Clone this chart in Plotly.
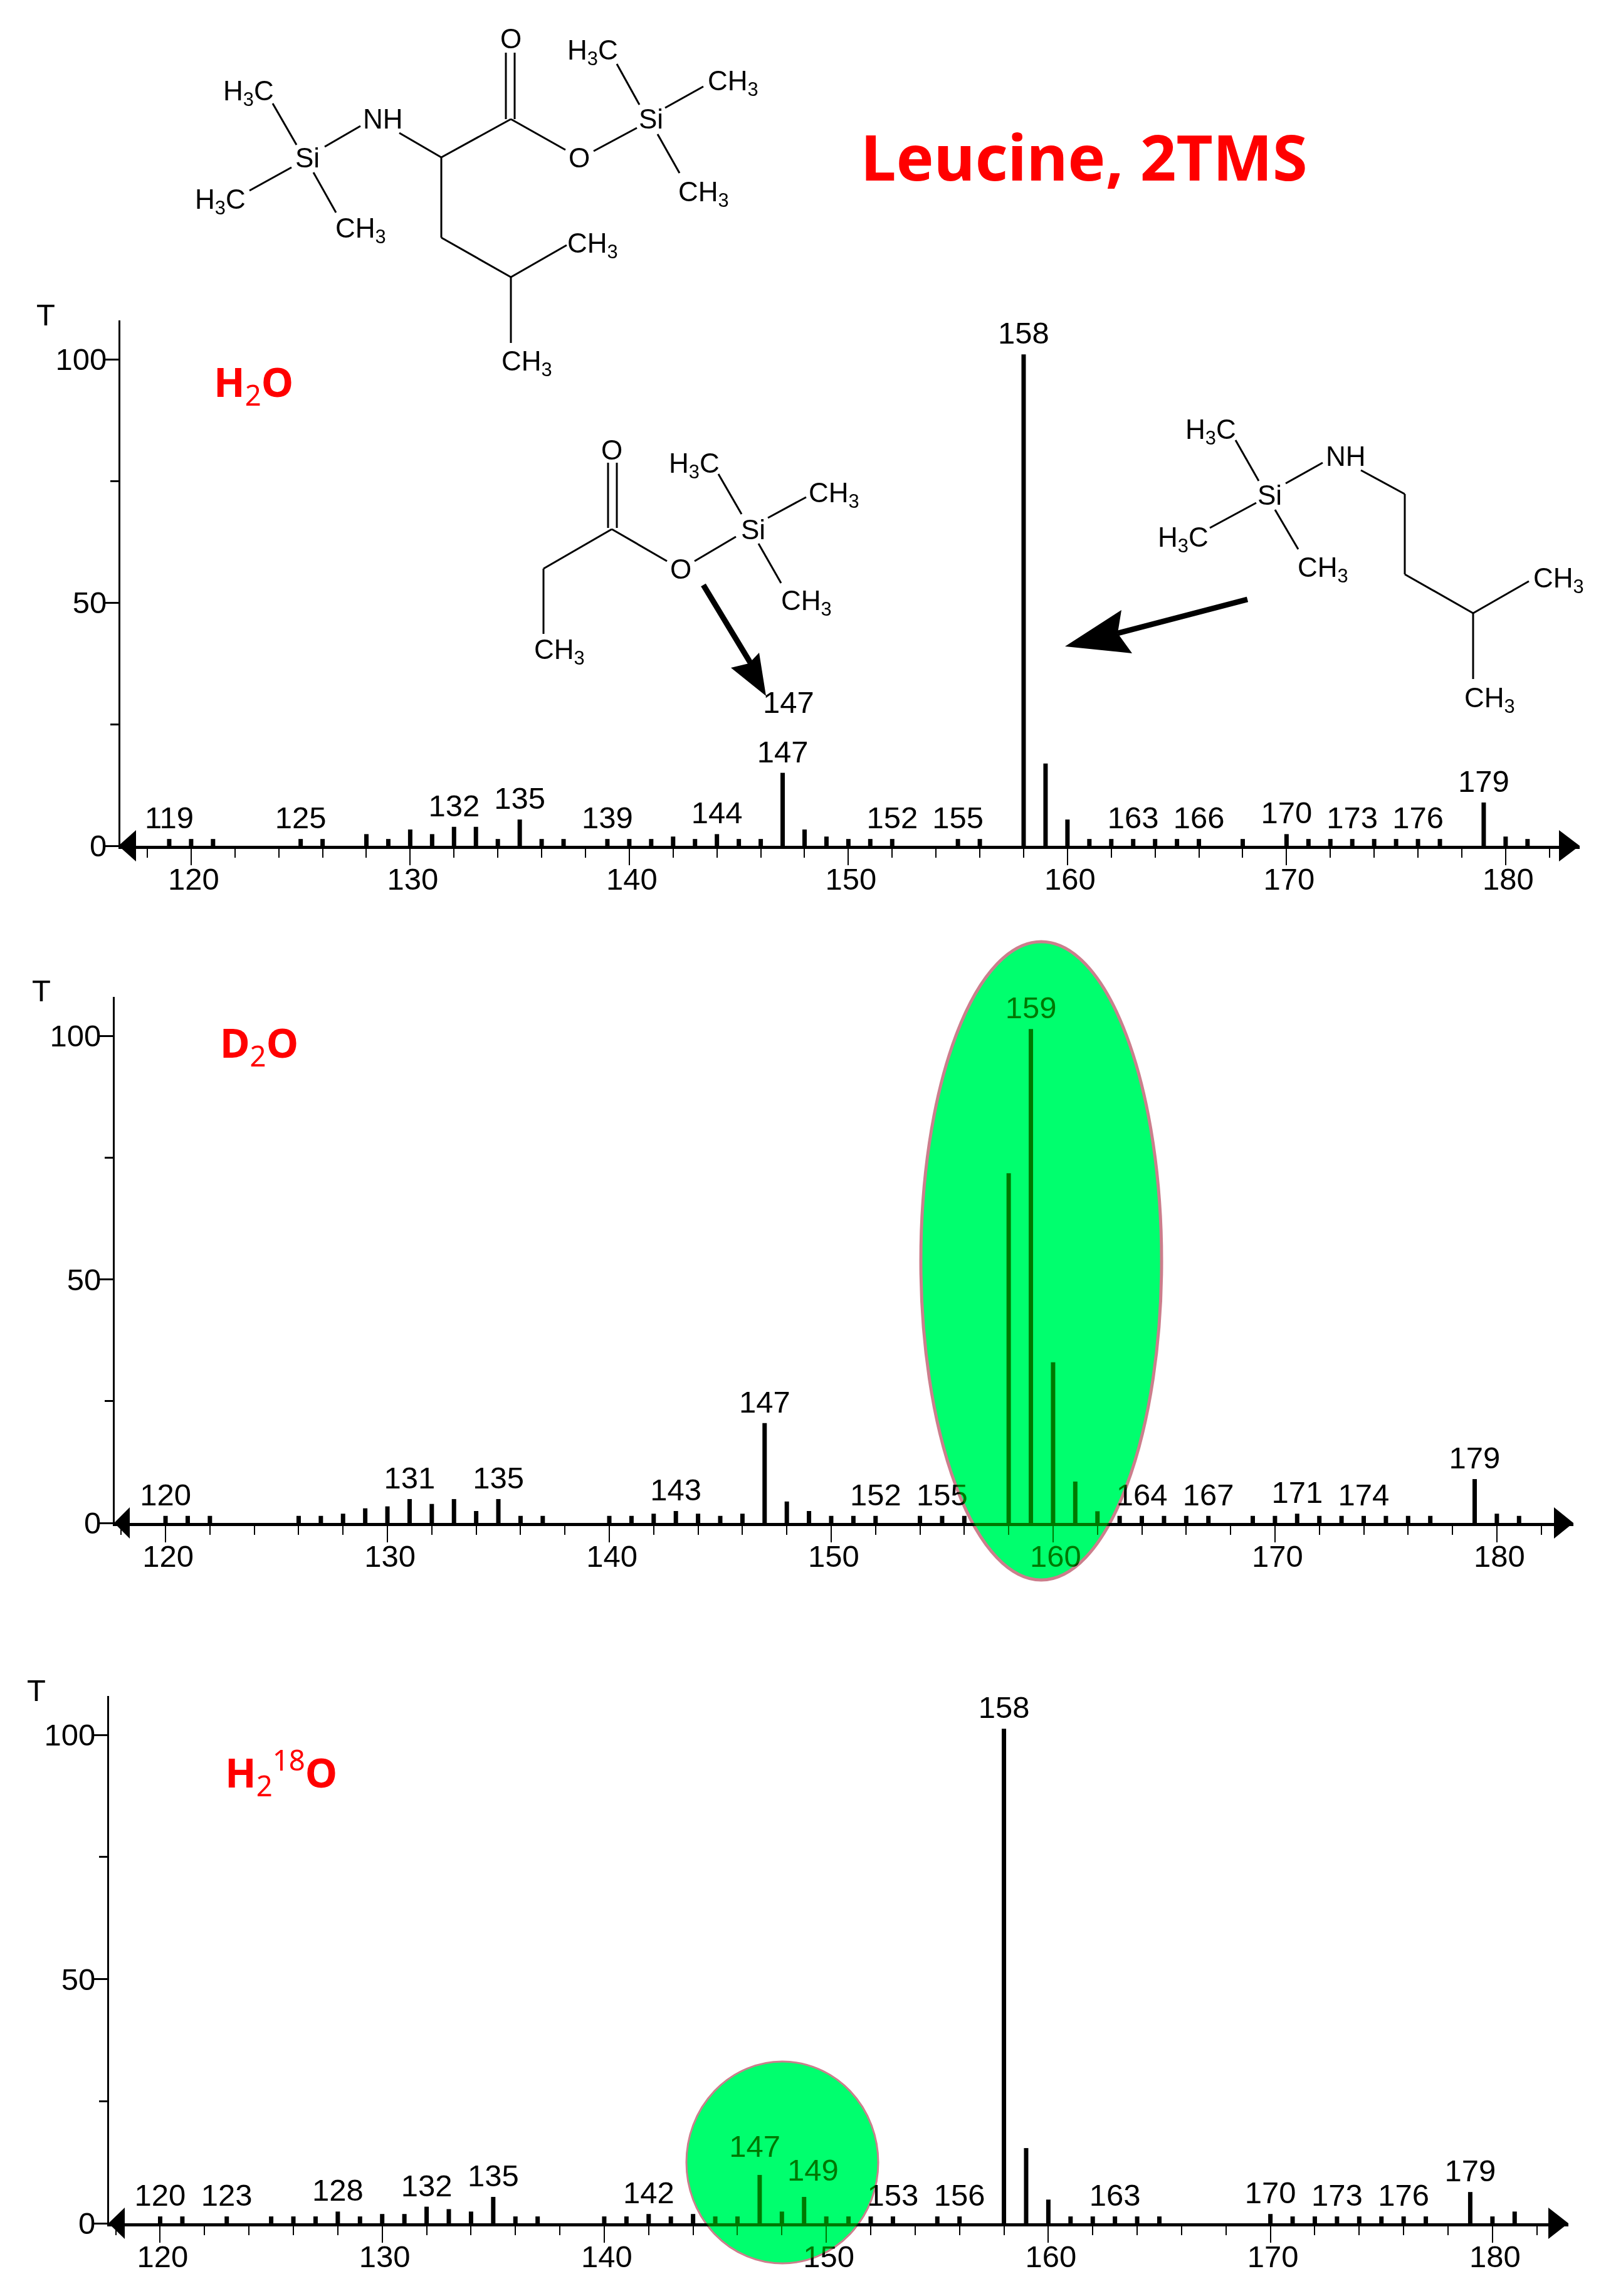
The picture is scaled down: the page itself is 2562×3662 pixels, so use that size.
import plotly.graph_objects as go

W, H = 2562, 3662
INK = "#000000"
RED = "#FF0000"
FONT = "Liberation Sans"

# ---------- spectra ----------
MZ_H2O = [119,120,121,125,126,128,129,130,131,132,133,134,135,136,137,139,140,141,142,143,144,145,146,147,148,149,150,151,152,155,156,158,159,160,161,162,163,164,165,166,168,170,171,172,173,174,175,176,177,179,180,181]
INT_H2O = [1.4,1.4,1.4,1.4,1.4,2.4,1.4,3.35,2.4,3.9,3.9,1.4,5.4,1.4,1.4,1.4,1.4,1.4,1.9,1.4,2.4,1.4,1.4,15.0,3.35,1.9,1.4,1.4,1.4,1.4,1.4,101,16.9,5.4,1.4,1.4,1.4,1.4,1.4,1.4,1.4,2.4,1.4,1.4,1.4,1.4,1.4,1.4,1.4,8.9,1.9,1.4]
LBL_H2O = [119,125,132,135,139,144,147,152,155,158,163,166,170,173,176,179]

MZ_D2O = [120,121,122,126,127,128,129,130,131,132,133,134,135,136,137,140,141,142,143,144,145,146,147,148,149,150,151,152,154,155,156,158,159,160,161,162,163,164,165,166,167,169,170,171,172,173,174,175,176,177,179,180,181]
INT_D2O = [1.45,1.45,1.45,1.45,1.45,1.9,3.0,3.4,4.9,3.9,4.9,2.45,4.9,1.45,1.45,1.45,1.45,1.9,2.45,1.9,1.45,1.9,20.5,4.4,2.45,1.45,1.45,1.45,1.45,1.45,1.45,71.8,101.4,33,8.5,2.4,1.45,1.45,1.45,1.45,1.45,1.45,1.45,1.9,1.45,1.45,1.45,1.45,1.45,1.45,9.0,1.9,1.45]
LBL_D2O = [120,131,135,143,147,152,155,159,164,167,171,174,179]

MZ_H218O = [120,121,123,125,126,127,128,129,130,131,132,133,134,135,136,137,140,141,142,143,144,145,146,147,148,149,150,151,152,153,155,156,158,159,160,161,162,163,164,165,170,171,172,173,174,175,176,177,179,180,181]
INT_H218O = [1.4,1.4,1.4,1.4,1.4,1.4,2.4,1.4,1.9,1.9,3.4,2.9,2.4,5.4,1.4,1.4,1.4,1.4,1.9,1.4,1.9,1.4,1.4,9.9,2.4,5.4,1.4,1.4,1.4,1.4,1.4,1.4,101.3,15.4,4.85,1.4,1.4,1.4,1.4,1.4,1.9,1.4,1.4,1.4,1.4,1.4,1.4,1.4,6.4,1.4,2.4]
LBL_H218O = [120,123,128,132,135,142,147,149,153,156,158,163,170,173,176,179]
# labels nudged off their stick in the reference: m/z -> (dx, dy) in axis units
NUDGE_H218O = {147: (-0.22, 1.6), 149: (0.4, 1.2)}

PANELS = [
    dict(mz=MZ_H2O, val=INT_H2O, lbl=LBL_H2O, nudge={}, left=192, right=2520, top=511, bottom=1349, xr=[116.77, 183.38],
         tip_l=189, base_l=217, base_r=2487, tip_r=2520),
    dict(mz=MZ_D2O, val=INT_D2O, lbl=LBL_D2O, nudge={}, left=183, right=2510, top=1590, bottom=2429, xr=[117.71, 183.45],
         tip_l=182, base_l=207, base_r=2479, tip_r=2510),
    dict(mz=MZ_H218O, val=INT_H218O, lbl=LBL_H218O, nudge=NUDGE_H218O, left=174, right=2502, top=2705, bottom=3546, xr=[117.70, 183.42],
         tip_l=173, base_l=199, base_r=2470, tip_r=2502),
]

STICK_FOOT = -0.5
LABEL_LIFT = 0.6


def px(x):
    return x / W


def py(y):
    return 1 - y / H


def poly(points, color=INK):
    d = "M " + " L ".join(f"{px(x):.5f},{py(y):.5f}" for x, y in points) + " Z"
    return dict(type="path", xref="paper", yref="paper", path=d, fillcolor=color, line=dict(width=0), layer="above")


def seg(x0, y0, x1, y1, w=3):
    return dict(type="line", xref="paper", yref="paper", x0=px(x0), y0=py(y0), x1=px(x1), y1=py(y1),
                line=dict(color=INK, width=w), layer="above")


def ellipse(x0, y0, x1, y1, fill, line=None, lw=0):
    return dict(type="circle", xref="paper", yref="paper", x0=px(x0), y0=py(y0), x1=px(x1), y1=py(y1),
                fillcolor=fill, line=dict(color=line or fill, width=lw), layer="above")


fig = go.Figure()
layout = {}
for i, p in enumerate(PANELS, start=1):
    xn = "x" if i == 1 else f"x{i}"
    yn = "y" if i == 1 else f"y{i}"
    sx, sy = [], []
    for m, v in zip(p["mz"], p["val"]):
        sx += [m, m, None]
        sy += [STICK_FOOT, v, None]
    fig.add_trace(go.Scatter(x=sx, y=sy, mode="lines", xaxis=xn, yaxis=yn, cliponaxis=False,
                             line=dict(color=INK, width=7), showlegend=False, hoverinfo="skip"))
    lookup = dict(zip(p["mz"], p["val"]))
    lx = [m + p["nudge"].get(m, (0, 0))[0] for m in p["lbl"]]
    ly = [lookup[m] + LABEL_LIFT + p["nudge"].get(m, (0, 0))[1] for m in p["lbl"]]
    fig.add_trace(go.Scatter(x=lx, y=ly, text=[str(m) for m in p["lbl"]],
                             mode="text", textposition="top center", xaxis=xn, yaxis=yn, cliponaxis=False,
                             textfont=dict(family=FONT, size=49, color=INK), showlegend=False, hoverinfo="skip"))
    suffix = "" if i == 1 else str(i)
    layout[f"xaxis{suffix}"] = dict(
        domain=[px(p["left"]), px(p["right"])], range=p["xr"], anchor=yn,
        tick0=120, dtick=10, ticks="outside", ticklen=26, tickwidth=2, tickcolor=INK,
        minor=dict(tick0=120, dtick=2, ticks="outside", ticklen=14, tickwidth=2, tickcolor=INK),
        showgrid=False, zeroline=False, showline=True, linecolor=INK, linewidth=5,
        tickfont=dict(family=FONT, size=49, color=INK), ticklabelstandoff=-20, ticklabelshift=4, automargin=False)
    layout[f"yaxis{suffix}"] = dict(
        domain=[py(p["bottom"]), py(p["top"])], range=[0, 108], anchor=xn,
        tick0=0, dtick=50, ticks="outside", ticklen=24, tickwidth=3, tickcolor=INK,
        minor=dict(tick0=0, dtick=25, ticks="outside", ticklen=13, tickwidth=3, tickcolor=INK),
        showgrid=False, zeroline=False, showline=True, linecolor=INK, linewidth=3,
        tickfont=dict(family=FONT, size=49, color=INK), ticklabelstandoff=-15, automargin=False)

# Highlight ellipses: indexes 0..3 get blend modes in the page script
shapes = [
    ellipse(1469, 1502, 1853, 2520, "#007800"),
    ellipse(1469, 1502, 1853, 2520, "#00FF6E", "#CC7E8C", 5),
    ellipse(1095, 3288, 1401, 3610, "#007800"),
    ellipse(1095, 3288, 1401, 3610, "#00FF6E", "#CC7E8C", 3),
]

# Axis arrow heads
for p in PANELS:
    b = p["bottom"]
    shapes.append(poly([(p["tip_l"], b), (p["base_l"], b - 25), (p["base_l"], b + 25)]))
    shapes.append(poly([(p["tip_r"], b), (p["base_r"], b - 25), (p["base_r"], b + 25)]))

# Leucine structure
BONDS = [
    (807, 84, 807, 190), (821, 84, 821, 190), (815, 190, 704, 251), (704, 251, 637, 212),
    (575, 201, 518, 234), (473, 231, 435, 165), (465, 267, 398, 304), (500, 275, 536, 339),
    (815, 190, 902, 239), (947, 241, 1016, 204), (1020, 167, 984, 102), (1061, 172, 1122, 138),
    (1049, 214, 1084, 276), (704, 251, 704, 379), (704, 379, 815, 442), (815, 442, 904, 391),
    (815, 442, 815, 547),
    # 147 fragment
    (970, 738, 970, 842), (984, 738, 984, 842), (976, 844, 867, 907), (867, 907, 867, 1011),
    (976, 844, 1064, 895), (1108, 895, 1174, 856), (1183, 820, 1146, 756), (1225, 826, 1286, 793),
    (1210, 867, 1246, 930),
    # 158 fragment
    (1971, 702, 2008, 767), (2051, 771, 2110, 738), (2171, 750, 2241, 788), (2241, 788, 2241, 916),
    (2241, 916, 2350, 978), (2350, 978, 2439, 927), (2350, 978, 2350, 1083), (2004, 802, 1930, 842),
    (2034, 813, 2071, 876),
]
shapes += [seg(*b) for b in BONDS]

# Pointing arrows
shapes.append(seg(1122, 933, 1200, 1062, 9))
shapes.append(poly([(1222, 1110), (1166, 1065), (1195, 1058), (1211, 1041)]))
shapes.append(seg(1990, 956, 1783, 1010, 9))
shapes.append(poly([(1699, 1031), (1789, 973), (1783, 1010), (1806, 1042)]))

ATOMS = [
    ("O", 815, 62), ("NH", 611, 190), ("Si", 490, 252), ("H<sub>3</sub>C", 396, 148), ("H<sub>3</sub>C", 351, 321),
    ("CH<sub>3</sub>", 575, 367), ("O", 924, 252), ("Si", 1038, 190), ("H<sub>3</sub>C", 945, 83),
    ("CH<sub>3</sub>", 1169, 132), ("CH<sub>3</sub>", 1122, 309), ("CH<sub>3</sub>", 945, 391), ("CH<sub>3</sub>", 841, 579),
    ("O", 976, 717), ("H<sub>3</sub>C", 1107, 742), ("CH<sub>3</sub>", 1330, 789), ("Si", 1201, 844), ("O", 1086, 907),
    ("CH<sub>3</sub>", 1286, 961), ("CH<sub>3</sub>", 892, 1039),
    ("H<sub>3</sub>C", 1932, 688), ("NH", 2147, 727), ("Si", 2025, 790), ("H<sub>3</sub>C", 1887, 860),
    ("CH<sub>3</sub>", 2110, 908), ("CH<sub>3</sub>", 2486, 925), ("CH<sub>3</sub>", 2376, 1116),
]


def note(text, x, y, size, color=INK, family=FONT, anchor="center"):
    return dict(text=text, x=px(x), y=py(y), xref="paper", yref="paper", xanchor=anchor, yanchor="middle",
                showarrow=False, font=dict(family=family, size=size, color=color))


annotations = [note(t, x, y, 44) for t, x, y in ATOMS]
annotations += [note("147", 1258, 1120, 49), note("T", 73, 502, 49), note("T", 66, 1580, 49), note("T", 58, 2696, 49)]
annotations += [
    note("<b>Leucine, 2TMS</b>", 1729, 249, 101, RED, "Noto Sans"),
    note("<b>H</b><sub>2</sub><b>O</b>", 404, 612, 65, RED, "Noto Sans"),
    note("<b>D</b><sub>2</sub><b>O</b>", 413, 1666, 65, RED, "Noto Sans"),
    note("<b>H</b><sub>2</sub><sup>18</sup><b>O</b>", 448, 2826, 65, RED, "Noto Sans"),
]

fig.update_layout(width=W, height=H, autosize=False, margin=dict(l=0, r=0, t=0, b=0, pad=0),
                  paper_bgcolor="white", plot_bgcolor="rgba(0,0,0,0)", showlegend=False,
                  shapes=shapes, annotations=annotations, **layout)

POST = """
document.body.style.margin='0';
document.documentElement.style.overflow='hidden';
document.querySelectorAll('.shapelayer path').forEach(function(p){
  var i=+p.getAttribute('data-index');
  if(i===0||i===2){p.style.mixBlendMode='screen';}
  if(i===1||i===3){p.style.mixBlendMode='multiply';}
});
"""
fig.write_html("out.html", config={"displayModeBar": False}, post_script=POST)
